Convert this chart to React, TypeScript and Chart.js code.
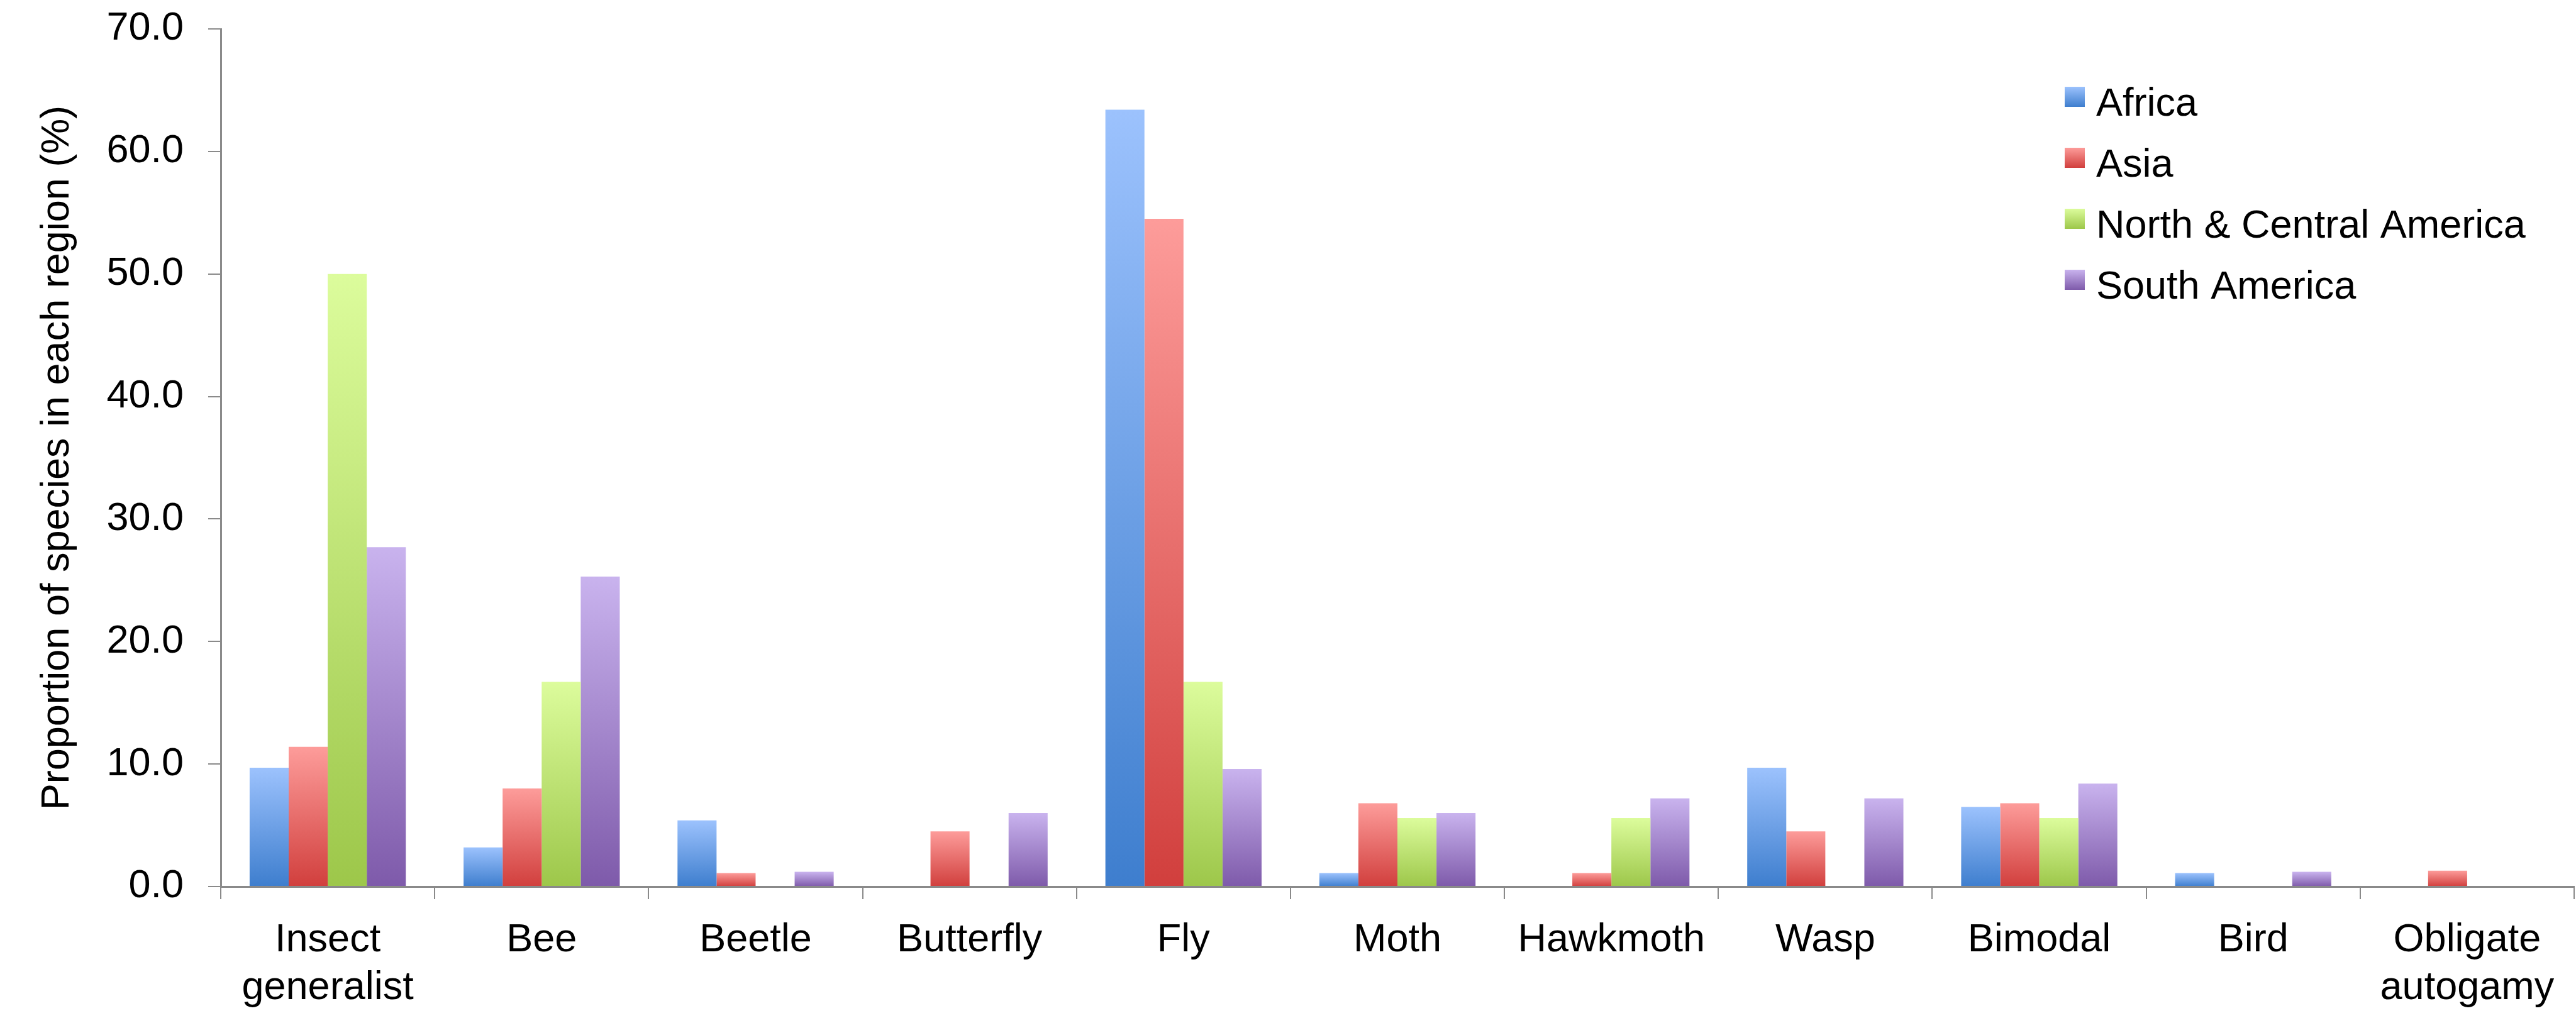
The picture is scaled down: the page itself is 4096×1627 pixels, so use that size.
import React, { useEffect, useRef } from "react";
import { Chart, registerables } from "chart.js";

Chart.register(...registerables);

// ---------- data ----------
const categories: (string | string[])[] = [
  ["Insect", "generalist"],
  "Bee",
  "Beetle",
  "Butterfly",
  "Fly",
  "Moth",
  "Hawkmoth",
  "Wasp",
  "Bimodal",
  "Bird",
  ["Obligate", "autogamy"],
];
const seriesNames = ["Africa", "Asia", "North & Central America", "South America"];
const africa = [9.7, 3.2, 5.4, 0, 63.4, 1.1, 0, 9.7, 6.5, 1.1, 0];
const asia = [11.4, 8.0, 1.1, 4.5, 54.5, 6.8, 1.1, 4.5, 6.8, 0, 1.3];
const northCentralAmerica = [50.0, 16.7, 0, 0, 16.7, 5.6, 5.6, 0, 5.6, 0, 0];
const southAmerica = [27.7, 25.3, 1.2, 6.0, 9.6, 6.0, 7.2, 7.2, 8.4, 1.2, 0];
const yTicks = [0, 10, 20, 30, 40, 50, 60, 70];
const yTitle = "Proportion of species in each region (%)";

// ---------- styles ----------
const FONT = "'Liberation Sans', Arial, Helvetica, sans-serif";
const W = 4096;
const H = 1627;
const gradTop = ["#9cc2fd", "#fd9c9a", "#dcfc9c", "#c9b3ee"];
const gradBottom = ["#3e7ece", "#d13f3d", "#9dc74a", "#7e5aaa"];
const axisColor = "#8a8a8a";

function barGradient(i: number) {
  return (ctx: any) => {
    const chart = ctx.chart;
    const y = chart.scales && chart.scales.y;
    if (ctx.type !== "data" || !y) return gradBottom[i];
    const v = ctx.parsed ? ctx.parsed.y : ctx.raw;
    const yTop = y.getPixelForValue(v);
    const yBase = y.getPixelForValue(0);
    if (!isFinite(yTop) || !isFinite(yBase) || yBase - yTop < 1) return gradBottom[i];
    const g = chart.ctx.createLinearGradient(0, yTop, 0, yBase);
    g.addColorStop(0, gradTop[i]);
    g.addColorStop(1, gradBottom[i]);
    return g;
  };
}

const legendPlugin = {
  id: "customLegend",
  afterDraw(chart: any) {
    const c = chart.ctx as CanvasRenderingContext2D;
    const x0 = 3283;
    const box = 32;
    const rowTop = 138;
    const rowStep = 97;
    const baseline = 184;
    c.save();
    c.font = `63px ${FONT}`;
    c.textBaseline = "alphabetic";
    c.textAlign = "left";
    chart.data.datasets.forEach((ds: any, i: number) => {
      const top = rowTop + rowStep * i;
      const g = c.createLinearGradient(0, top, 0, top + box);
      g.addColorStop(0, gradTop[i]);
      g.addColorStop(1, gradBottom[i]);
      c.fillStyle = g;
      c.fillRect(x0, top, box, box);
      c.fillStyle = "#000";
      c.fillText(ds.label, x0 + 50, baseline + rowStep * i);
    });
    c.restore();
  },
};

export default function App() {
  const ref = useRef<HTMLCanvasElement | null>(null);

  useEffect(() => {
    if (!ref.current) return;
    const series = [africa, asia, northCentralAmerica, southAmerica];
    const chart = new Chart(ref.current, {
      type: "bar",
      data: {
        labels: categories as any,
        datasets: series.map((d, i) => ({
          label: seriesNames[i],
          data: d,
          backgroundColor: barGradient(i) as any,
          borderWidth: 0,
          barPercentage: 1,
          categoryPercentage: 0.73,
        })),
      },
      options: {
        responsive: false,
        devicePixelRatio: 1,
        animation: false,
        layout: { padding: { top: 46, left: 0, right: 3, bottom: 0 } },
        plugins: {
          legend: { display: false },
          tooltip: { enabled: false },
          title: { display: false },
        },
        scales: {
          x: {
            grid: {
              offset: true,
              drawOnChartArea: false,
              drawTicks: true,
              tickLength: 20,
              color: axisColor,
              lineWidth: 2,
            },
            border: { display: true, color: axisColor, width: 3 },
            ticks: {
              color: "#000",
              font: { family: FONT, size: 63 },
              padding: 28,
              maxRotation: 0,
              minRotation: 0,
              autoSkip: false,
            },
            afterFit: (s: any) => {
              s.height = 217;
              s.paddingLeft = 0;
              s.paddingRight = 0;
            },
          },
          y: {
            min: 0,
            max: 70,
            afterBuildTicks: (s: any) => {
              s.ticks = yTicks.map((v) => ({ value: v }));
            },
            grid: {
              drawOnChartArea: false,
              drawTicks: true,
              tickLength: 20,
              color: axisColor,
              lineWidth: 2,
            },
            border: { display: true, color: axisColor, width: 3 },
            ticks: {
              color: "#000",
              font: { family: FONT, size: 63 },
              padding: 39,
              callback: (v: any) => Number(v).toFixed(1),
            },
            title: {
              display: true,
              text: yTitle,
              color: "#000",
              font: { family: FONT, size: 63 },
              padding: { top: 54, bottom: 0 },
            },
            afterFit: (s: any) => {
              s.width = 351;
              s.paddingTop = 0;
              s.paddingBottom = 0;
            },
          },
        },
      },
      plugins: [legendPlugin],
    });
    return () => chart.destroy();
  }, []);

  return (
    <div style={{ position: "absolute", left: 0, top: 0, width: W, height: H, background: "#fff" }}>
      <canvas ref={ref} width={W} height={H} style={{ display: "block", width: W, height: H }} />
    </div>
  );
}
